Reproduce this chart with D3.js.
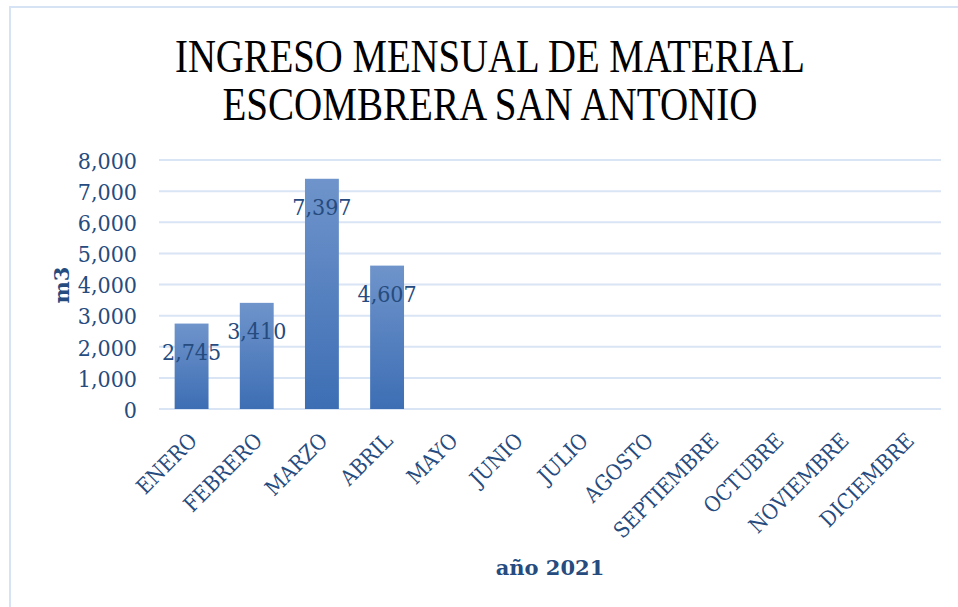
<!DOCTYPE html>
<html><head><meta charset="utf-8">
<script src="https://cdn.jsdelivr.net/npm/d3@7"></script>
<style>body{margin:0;background:#fff}svg{display:block}</style>
</head><body>
<script>
const months = ["ENERO","FEBRERO","MARZO","ABRIL","MAYO","JUNIO","JULIO","AGOSTO","SEPTIEMBRE","OCTUBRE","NOVIEMBRE","DICIEMBRE"];
const values = [2745, 3410, 7397, 4607, null, null, null, null, null, null, null, null];
const yTicks = [0,1000,2000,3000,4000,5000,6000,7000,8000];
const titleLines = ["INGRESO MENSUAL DE MATERIAL","ESCOMBRERA SAN ANTONIO"];
const yTitle = "m3";
const xTitle = "año 2021";

const W=958,H=607;
const txt="#264B7E";
const serif="DejaVu Serif Condensed, DejaVu Serif, serif";
const svg=d3.select("body").append("svg").attr("width",W).attr("height",H);
svg.append("rect").attr("x",10).attr("y",7).attr("width",W).attr("height",H).attr("fill","#fff").attr("stroke","#D6E3F4").attr("stroke-width",2);

const defs=svg.append("defs");
const g=defs.append("linearGradient").attr("id","bg").attr("x1",0).attr("y1",0).attr("x2",0).attr("y2",1);
g.append("stop").attr("offset","0%").attr("stop-color","#6F94CB");
g.append("stop").attr("offset","100%").attr("stop-color","#3D6EB4");

const x=d3.scaleBand().domain(months).range([159,941]).paddingInner(0.48).paddingOuter(0.24);
const y=d3.scaleLinear().domain([0,8000]).range([409,160]);

svg.append("g").selectAll("line").data(yTicks).join("line")
 .attr("x1",159).attr("x2",941).attr("y1",d=>y(d)).attr("y2",d=>y(d))
 .attr("stroke","#D9E4F4").attr("stroke-width",2);

const yAxis=svg.append("g").attr("transform","translate(137,0)")
 .call(d3.axisLeft(y).tickValues(yTicks).tickFormat(d3.format(",")).tickSize(0).tickPadding(0));
yAxis.select(".domain").remove();
yAxis.selectAll("text").attr("font-family",serif).attr("font-size",23).attr("fill",txt).attr("dy","0.36em");

const bd=months.map((m,i)=>({m,v:values[i]})).filter(d=>d.v!=null);
svg.append("g").selectAll("rect").data(bd).join("rect")
 .attr("x",d=>x(d.m)).attr("width",x.bandwidth()).attr("y",d=>y(d.v)).attr("height",d=>y(0)-y(d.v)).attr("fill","url(#bg)");

svg.append("g").selectAll("text").data(bd).join("text")
 .attr("x",d=>x(d.m)+x.bandwidth()/2).attr("y",d=>y(d.v)+28).attr("dy","0.36em")
 .attr("text-anchor","middle").attr("font-family",serif).attr("font-size",23).attr("fill",txt)
 .text(d=>d3.format(",")(d.v));

const xAxis=svg.append("g").attr("transform","translate(0,409)")
 .call(d3.axisBottom(x).tickSize(0).tickPadding(0));
xAxis.select(".domain").remove();
xAxis.selectAll("text").attr("font-family",serif).attr("font-size",21.5).attr("fill",txt)
 .attr("text-anchor","end").attr("dy",null).attr("y",0)
 .attr("transform","translate(7,33) rotate(-45)");

svg.append("g").selectAll("text").data(titleLines).join("text")
 .attr("x",490).attr("y",(d,i)=>72+i*48).attr("text-anchor","middle")
 .attr("font-family","Liberation Serif, serif").attr("font-size",46).attr("fill","#000")
 .attr("textLength",(d,i)=>i===0?630:535).attr("lengthAdjust","spacingAndGlyphs")
 .text(d=>d);

svg.append("text").attr("transform","translate(69,285) rotate(-90)").attr("text-anchor","middle")
 .attr("font-family","DejaVu Serif, serif").attr("font-weight","bold").attr("font-size",21).attr("fill",txt).text(yTitle);
svg.append("text").attr("x",550).attr("y",575).attr("text-anchor","middle")
 .attr("font-family","DejaVu Serif, serif").attr("font-weight","bold").attr("font-size",21).attr("fill",txt).text(xTitle);
</script>
</body></html>
